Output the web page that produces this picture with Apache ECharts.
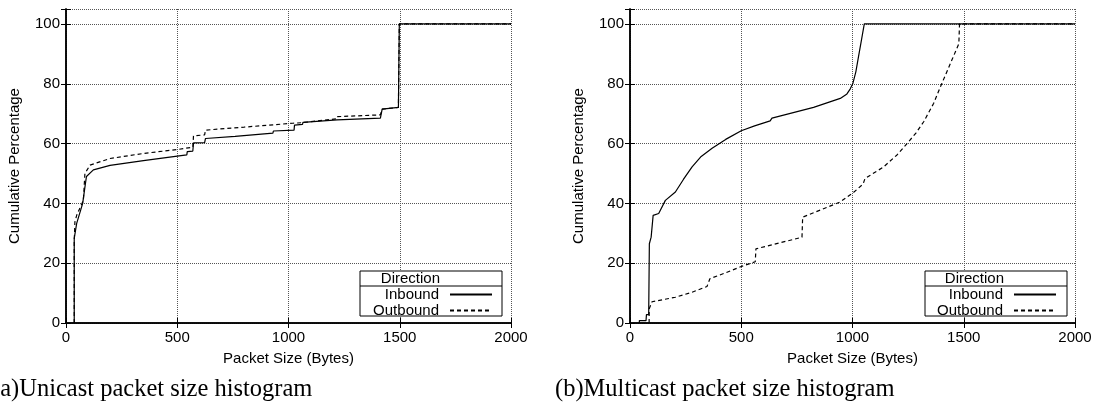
<!DOCTYPE html>
<html>
<head>
<meta charset="utf-8">
<script src="https://cdn.jsdelivr.net/npm/echarts@6/dist/echarts.min.js"></script>
<style>
  html, body { margin: 0; padding: 0; background: #fff; }
  #main { width: 1095px; height: 406px; }
</style>
</head>
<body>
<div id="main"></div>
<script>
// x ticks and y ticks shared by both panels
const xTicks = [0, 500, 1000, 1500, 2000];
const yTicks = [0, 20, 40, 60, 80, 100];

// (a) unicast, [packet size, cumulative %]
const uniInbound = [
  [37, 0], [37, 28.3], [48, 33.3], [75, 40], [88, 47], [92, 49], [123, 51.2],
  [198, 52.7], [348, 54.3], [500, 55.8], [543, 56.2], [545, 57.3], [570, 57.5],
  [573, 60.2], [623, 60.3], [627, 61.7], [760, 62.4], [930, 63.5], [932, 64.2],
  [1025, 64.5], [1027, 66.2], [1063, 66.4], [1065, 67.1], [1218, 67.9],
  [1413, 68.5], [1421, 71.5], [1494, 72.1], [1498, 100], [2000, 100]
];
const uniOutbound = [
  [37, 0], [37, 27], [40, 33.8], [48, 36], [78, 41], [85, 50], [108, 52.8],
  [198, 55], [348, 56.7], [500, 58], [570, 58.8], [573, 62.6], [623, 62.9],
  [627, 64.5], [800, 65.5], [1020, 66.8], [1063, 67], [1065, 67.6], [1216, 68.3],
  [1218, 69], [1413, 69.6], [1421, 71.5], [1494, 72.1], [1498, 100], [2000, 100]
];

// (b) multicast
const multiInbound = [
  [42, 0], [42, 0.8], [72, 0.8], [74, 2.8], [84, 2.8], [87, 26.5], [95, 28.7],
  [104, 36], [129, 36.6], [159, 41], [204, 43.8], [240, 48], [279, 52.2],
  [320, 55.7], [369, 58.4], [430, 61.4], [500, 64.3], [560, 65.9], [630, 67.6],
  [638, 68.5], [825, 72.1], [945, 75.1], [975, 76.6], [990, 78.3], [1002, 80.2],
  [1015, 84], [1027, 89.1], [1040, 94.5], [1053, 100], [2000, 100]
];
const multiOutbound = [
  [86, 0], [86, 4.7], [99, 7.1], [204, 8.6], [279, 10.3], [346, 12.2], [359, 14.8],
  [430, 16.8], [500, 18.9], [563, 20.5], [566, 24.8], [700, 27.3], [773, 28.7],
  [776, 35.4], [860, 37.9], [945, 40.5], [1002, 43.5], [1048, 46.5], [1056, 48.3],
  [1140, 52.2], [1200, 56.2], [1245, 60], [1285, 63.5], [1320, 67.3], [1365, 73.5],
  [1402, 80.2], [1427, 84.5], [1447, 88], [1478, 93.4], [1481, 100], [2000, 100]
];

const font = "'Liberation Sans', Arial, sans-serif";
const serif = "'Liberation Serif', 'Times New Roman', serif";
const black = '#000';
const fs = 15;

function xAxes(g) {
  return [
    {
      type: 'value', gridIndex: g, min: xTicks[0], max: xTicks[xTicks.length - 1],
      interval: xTicks[1] - xTicks[0],
      name: 'Packet Size (Bytes)', nameLocation: 'middle', nameGap: 28,
      nameTextStyle: { color: black, fontSize: fs, fontFamily: font },
      axisLine: { show: true, lineStyle: { color: black, width: 1.5 } },
      axisTick: { show: true, inside: true, length: 5, lineStyle: { color: black } },
      axisLabel: { color: black, fontSize: fs, fontFamily: font, margin: 7, formatter: v => String(v) },
      splitLine: { show: true, lineStyle: { color: '#555', type: 'dotted', width: 1 } }
    },
    {
      type: 'value', gridIndex: g, position: 'top', min: xTicks[0], max: xTicks[xTicks.length - 1],
      interval: xTicks[1] - xTicks[0],
      axisLine: { show: true, lineStyle: { color: black, width: 1.5 } },
      axisTick: { show: true, inside: true, length: 5, lineStyle: { color: black } },
      axisLabel: { show: false },
      splitLine: { show: false }
    }
  ];
}

function yAxes(g) {
  return [
    {
      type: 'value', gridIndex: g, min: 0, max: 105, interval: yTicks[1] - yTicks[0],
      name: 'Cumulative Percentage', nameLocation: 'middle', nameGap: 44,
      nameTextStyle: { color: black, fontSize: fs, fontFamily: font },
      axisLine: { show: true, lineStyle: { color: black, width: 1.5 } },
      axisTick: { show: true, inside: true, length: 5, lineStyle: { color: black } },
      axisLabel: {
        color: black, fontSize: fs, fontFamily: font, margin: 6,
        formatter: v => (yTicks.indexOf(v) >= 0 ? String(v) : '')
      },
      splitLine: { show: true, lineStyle: { color: '#555', type: 'dotted', width: 1 } }
    },
    {
      type: 'value', gridIndex: g, position: 'right', min: 0, max: 105, interval: yTicks[1] - yTicks[0],
      axisLine: { show: true, lineStyle: { color: black, width: 1.5 } },
      axisTick: { show: true, inside: true, length: 5, lineStyle: { color: black } },
      axisLabel: { show: false },
      splitLine: { show: false }
    }
  ];
}

function line(name, data, xi, yi, dashed) {
  return {
    type: 'line', name: name, data: data, xAxisIndex: xi, yAxisIndex: yi,
    symbol: 'none', animation: false,
    lineStyle: { color: black, width: 1.2, type: dashed ? [4, 3] : 'solid' },
    itemStyle: { color: black }
  };
}

function legend(right) {
  return {
    orient: 'vertical', align: 'right', right: right, top: 287, padding: 0, z: 20,
    itemWidth: 42, itemHeight: 14, itemGap: 1,
    itemStyle: { opacity: 0 },
    textStyle: { color: black, fontSize: fs, fontFamily: font, lineHeight: 14, padding: [0, 6, 0, 0] },
    data: ['Inbound', 'Outbound']
  };
}

function legendFrame(x, textRight) {
  return [
    { type: 'rect', shape: { x: x, y: 271, width: 142, height: 45 },
      style: { fill: '#fff', stroke: black, lineWidth: 1 }, z: 5 },
    { type: 'line', shape: { x1: x, y1: 286, x2: x + 142, y2: 286 },
      style: { stroke: black, lineWidth: 1 }, z: 6 },
    { type: 'text', x: textRight, y: 279, z: 6,
      style: { text: 'Direction', fill: black, font: fs + 'px ' + font, textAlign: 'right', textVerticalAlign: 'middle' } }
  ];
}

const chart = echarts.init(document.getElementById('main'));
chart.setOption({
  animation: false,
  backgroundColor: '#fff',
  grid: [
    { left: 66, right: 584, top: 9, bottom: 83 },
    { left: 630, right: 20, top: 9, bottom: 83 }
  ],
  xAxis: xAxes(0).concat(xAxes(1)),
  yAxis: yAxes(0).concat(yAxes(1)),
  legend: [legend(602), legend(38)],
  graphic: legendFrame(360, 440).concat(legendFrame(925, 1004)).concat([
    { type: 'text', x: -8, y: 390,
      style: { text: '(a)Unicast packet size histogram', fill: black, font: '24.5px ' + serif, textVerticalAlign: 'middle' } },
    { type: 'text', x: 555, y: 390,
      style: { text: '(b)Multicast packet size histogram', fill: black, font: '24.5px ' + serif, textVerticalAlign: 'middle' } }
  ]),
  series: [
    line('Inbound', uniInbound, 0, 0, false),
    line('Outbound', uniOutbound, 0, 0, true),
    line('Inbound', multiInbound, 2, 2, false),
    line('Outbound', multiOutbound, 2, 2, true)
  ]
});
</script>
</body>
</html>
